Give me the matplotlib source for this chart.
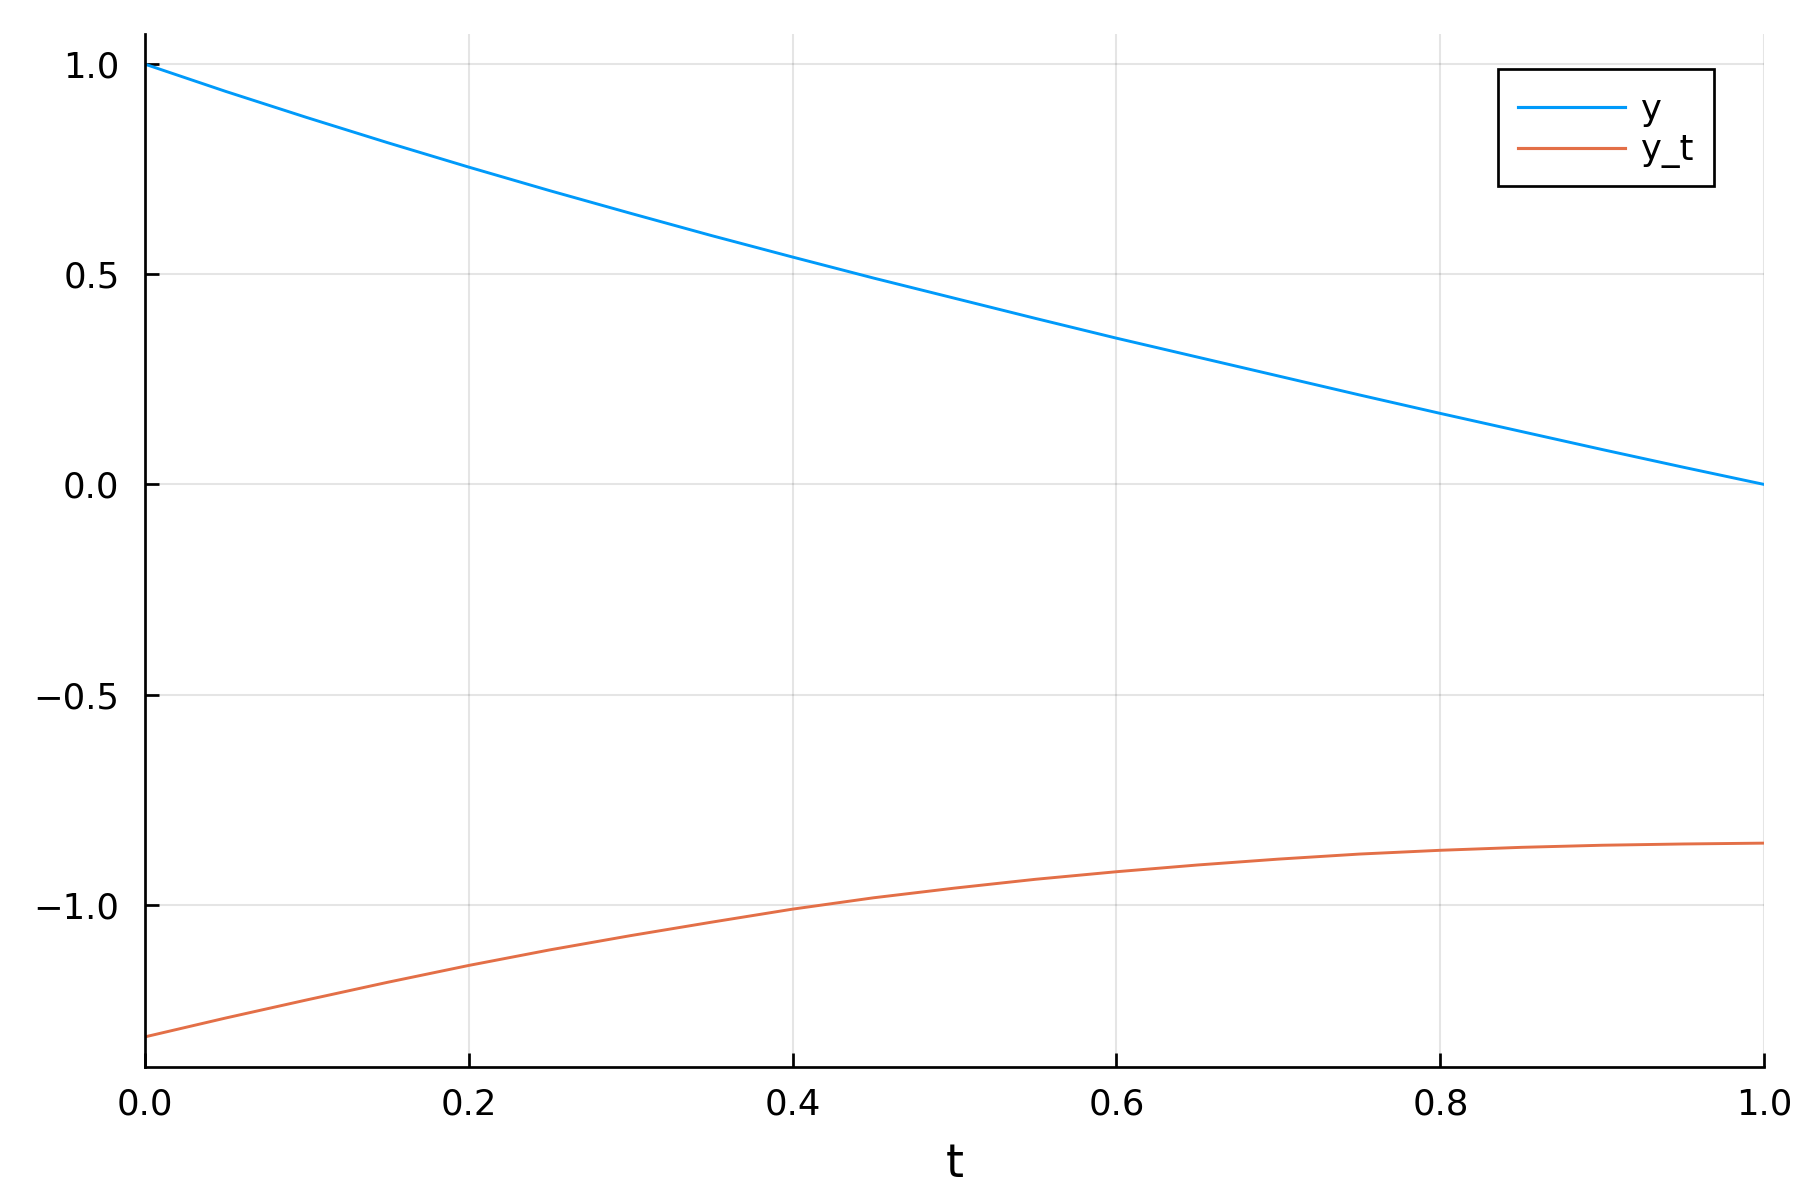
import matplotlib
matplotlib.use("Agg")
import matplotlib.pyplot as plt
import matplotlib.transforms as mtransforms

# Data
t = [0.00, 0.05, 0.10, 0.15, 0.20, 0.25, 0.30, 0.35, 0.40, 0.45, 0.50,
     0.55, 0.60, 0.65, 0.70, 0.75, 0.80, 0.85, 0.90, 0.95, 1.00]
y = [1.000, 0.935, 0.873, 0.813, 0.755, 0.699, 0.645, 0.592, 0.541, 0.491, 0.443,
     0.395, 0.348, 0.303, 0.258, 0.213, 0.169, 0.126, 0.083, 0.041, 0.000]
y_t = [-1.314, -1.269, -1.226, -1.184, -1.144, -1.107, -1.073, -1.041, -1.010, -0.983, -0.960,
       -0.939, -0.921, -0.905, -0.891, -0.879, -0.870, -0.863, -0.858, -0.855, -0.853]

series_names = ["y", "y_t"]
xticks = [0.0, 0.2, 0.4, 0.6, 0.8, 1.0]
yticks = [-1.0, -0.5, 0.0, 0.5, 1.0]
xlabel = "t"

plt.rcParams['font.family'] = ['DejaVu Sans']

W, H = 1800, 1200
fig = plt.figure(figsize=(6, 4), dpi=300)
left, right, top, bottom = 144.6, 1764.4, 34.4, 1066.6
ax = fig.add_axes([left / W, 1 - bottom / H, (right - left) / W, (bottom - top) / H])

ax.plot(t, y, color='#009AFA', lw=0.7, label=series_names[0])
ax.plot(t, y_t, color='#E36F47', lw=0.7, label=series_names[1])

ax.set_xlim(0, 1)
ax.set_ylim(-1.3845, 1.0705)
ax.set_xticks(xticks)
ax.set_yticks(yticks)
ax.set_xticklabels([f"{v:.1f}" for v in xticks])
ax.set_yticklabels([f"{v:.1f}".replace('-', '\u2212') for v in yticks])

ax.grid(True, color='black', alpha=0.1, lw=0.5)
ax.set_axisbelow(True)

for s in ['top', 'right']:
    ax.spines[s].set_visible(False)
for s in ['left', 'bottom']:
    ax.spines[s].set_linewidth(0.65)

ax.tick_params(axis='both', direction='in', length=3.4, width=0.65, labelsize=8.5)
ax.tick_params(axis='x', pad=5.0)
ax.tick_params(axis='y', pad=6.0)

ax.set_xlabel(xlabel, fontsize=11, va='baseline')
ax.xaxis.set_label_coords(0.5, (bottom - 1176.7) / (bottom - top))

leg = ax.legend(loc='upper left', bbox_to_anchor=(1497.7 / W, 1 - 69.3 / H),
                bbox_transform=fig.transFigure, borderaxespad=0, fontsize=8.5,
                handlelength=3.02, handletextpad=0.45, borderpad=0.58,
                labelspacing=0.18, fancybox=False, framealpha=1.0)
leg.get_frame().set_edgecolor('black')
leg.get_frame().set_linewidth(0.65)

# shift legend content slightly downward inside the frame
shift = mtransforms.ScaledTranslation(0, -0.69 / 72, fig.dpi_scale_trans)
for line in leg.get_lines():
    line.set_linewidth(0.75)
    line.set_transform(line.get_transform() + shift)
for txt in leg.get_texts():
    txt.set_transform(txt.get_transform() + shift)

fig.savefig("out.png", dpi=300)
